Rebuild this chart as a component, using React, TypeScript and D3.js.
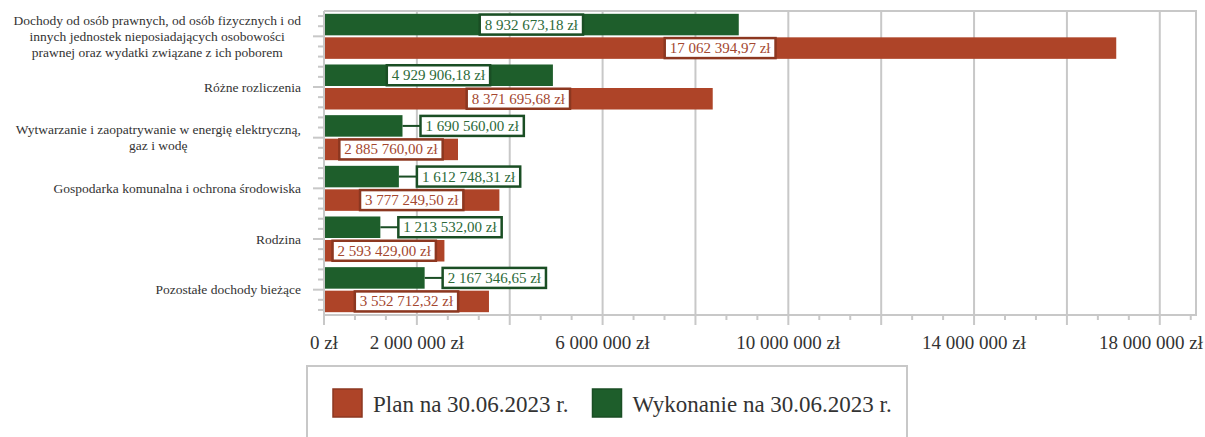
import React, { useEffect, useRef } from 'react';
import * as d3 from 'd3';

const categories = [
  'Dochody od osób prawnych, od osób fizycznych i od innych jednostek nieposiadających osobowości prawnej oraz wydatki związane z ich poborem',
  'Różne rozliczenia',
  'Wytwarzanie i zaopatrywanie w energię elektryczną, gaz i wodę',
  'Gospodarka komunalna i ochrona środowiska',
  'Rodzina',
  'Pozostałe dochody bieżące',
];
const planValues = [17062394.97, 8371695.68, 2885760.0, 3777249.5, 2593429.0, 3552712.32];
const wykonanieValues = [8932673.18, 4929906.18, 1690560.0, 1612748.31, 1213532.0, 2167346.65];
const xTickLabels = [0, 2000000, 6000000, 10000000, 14000000, 18000000];
const seriesNames = ['Plan na 30.06.2023 r.', 'Wykonanie na 30.06.2023 r.'];

const xMax = 18780000;
const gridStep = 2000000;

const WIDTH = 1205;
const HEIGHT = 437;
const FONT = '"Liberation Serif", "Times New Roman", serif';

const RED = '#ae4428';
const RED_DARK = '#8c3720';
const RED_TEXT = '#a4472f';
const GREEN = '#1e5e2b';
const GREEN_DARK = '#1a4e24';
const GREEN_TEXT = '#2c6a39';
const AXIS = '#c8c8c8';

const pl = d3.formatLocale({ decimal: ',', thousands: ' ', grouping: [3], currency: ['', ' zł'] });
const fmtValue = (v: number) => pl.format(',.2f')(v) + ' zł';
const fmtTick = (v: number) => pl.format(',.0f')(v) + ' zł';

export default function App() {
  const svgRef = useRef<SVGSVGElement>(null);

  useEffect(() => {
    if (!svgRef.current) return;
    const svg = d3.select(svgRef.current);
    svg.selectAll('*').remove();

    const left = 324, right = 1196, top = 11, bottom = 315;

    const x = d3.scaleLinear().domain([0, xMax]).range([left, right]);
    const y = d3.scaleBand<string>().domain(categories).range([top, bottom]);
    const sub = d3.scaleBand<string>()
      .domain(['w', 'p'])
      .range([0, y.bandwidth()])
      .paddingInner(0.085)
      .paddingOuter(0.12);

    // gridlines
    const grid = d3.range(gridStep, xMax, gridStep);
    svg.append('g')
      .selectAll('line')
      .data(grid)
      .enter()
      .append('line')
      .attr('x1', d => x(d)).attr('x2', d => x(d))
      .attr('y1', top).attr('y2', bottom)
      .attr('stroke', AXIS).attr('stroke-width', 2);

    // plot frame (top + right)
    svg.append('path')
      .attr('d', `M${left},${top}H${right}V${bottom}`)
      .attr('fill', 'none').attr('stroke', AXIS).attr('stroke-width', 2);

    // bars
    const rows = categories.map((c, i) => ({ c, plan: planValues[i], wyk: wykonanieValues[i] }));
    const barG = svg.append('g');
    rows.forEach(r => {
      const y0 = y(r.c)!;
      barG.append('rect')
        .attr('x', x(0)).attr('y', y0 + sub('w')!)
        .attr('width', x(r.wyk) - x(0)).attr('height', sub.bandwidth())
        .attr('fill', GREEN);
      barG.append('rect')
        .attr('x', x(0) - 1).attr('y', y0 + sub('p')!)
        .attr('width', x(r.plan) - x(0) + 1).attr('height', sub.bandwidth())
        .attr('fill', RED);
    });

    // axes lines
    svg.append('line')
      .attr('x1', left).attr('x2', left).attr('y1', top).attr('y2', bottom + 1)
      .attr('stroke', AXIS).attr('stroke-width', 2);
    svg.append('line')
      .attr('x1', left - 1).attr('x2', right + 1).attr('y1', bottom).attr('y2', bottom)
      .attr('stroke', AXIS).attr('stroke-width', 2);

    // x ticks
    const minor = d3.range(0, xMax, gridStep / 3);
    svg.append('g')
      .selectAll('line')
      .data(minor)
      .enter()
      .append('line')
      .attr('x1', d => x(d)).attr('x2', d => x(d))
      .attr('y1', bottom)
      .attr('y2', (d, i) => (i % 3 === 0 ? bottom + 10 : bottom + 5))
      .attr('stroke', AXIS).attr('stroke-width', 2);

    // x tick labels, last one kept inside the picture
    svg.append('g')
      .selectAll('text')
      .data(xTickLabels)
      .enter()
      .append('text')
      .attr('y', 349)
      .attr('text-anchor', 'middle')
      .attr('font-family', FONT)
      .attr('font-size', 19)
      .attr('fill', '#333')
      .text(d => fmtTick(d))
      .each(function (d) {
        const w = (this as SVGTextElement).getComputedTextLength();
        let cx = x(d);
        if (cx + w / 2 > WIDTH - 2) cx = WIDTH - 2 - w / 2;
        d3.select(this).attr('x', cx);
      });

    // y ticks
    const yTicks: { pos: number; major: boolean }[] = [];
    categories.forEach(c => {
      const center = y(c)! + y.bandwidth() / 2;
      [-2, -1, 0, 1, 2].forEach(k => {
        const pos = center + (k * y.bandwidth()) / 5;
        if (pos > top + 1 && pos < bottom - 1) yTicks.push({ pos, major: k === 0 });
      });
    });
    svg.append('g')
      .selectAll('line')
      .data(yTicks)
      .enter()
      .append('line')
      .attr('x1', d => (d.major ? left - 11 : left - 6)).attr('x2', left)
      .attr('y1', d => d.pos).attr('y2', d => d.pos)
      .attr('stroke', AXIS).attr('stroke-width', 2);

    // category labels (wrapped, centred block, right edge aligned)
    const labelRight = 301;
    const maxW = 300;
    categories.forEach(c => {
      const center = y(c)! + y.bandwidth() / 2;
      const t = svg.append('text')
        .attr('font-family', FONT)
        .attr('font-size', 13.5)
        .attr('fill', '#333')
        .attr('text-anchor', 'middle');
      const words = c.split(' ');
      const lines: string[] = [];
      let cur = '';
      const probe = t.append('tspan');
      words.forEach(w => {
        const test = cur ? cur + ' ' + w : w;
        probe.text(test);
        if ((probe.node() as SVGTSpanElement).getComputedTextLength() > maxW && cur) {
          lines.push(cur);
          cur = w;
        } else cur = test;
      });
      lines.push(cur);
      probe.remove();
      let blockW = 0;
      lines.forEach(l => {
        const ts = t.append('tspan').text(l);
        blockW = Math.max(blockW, (ts.node() as SVGTSpanElement).getComputedTextLength());
      });
      const lh = 16;
      const cx = labelRight - blockW / 2;
      t.selectAll('tspan')
        .attr('x', cx)
        .attr('y', (_, i) => center + (i - (lines.length - 1) / 2) * lh + 4.5);
    });

    // data labels
    const labelG = svg.append('g');
    const drawLabel = (value: number, yTop: number, border: string, textCol: string, lineCol: string) => {
      const h = sub.bandwidth();
      const cy = yTop + h / 2;
      const g = labelG.append('g');
      const rect = g.append('rect');
      const txt = g.append('text')
        .attr('font-family', FONT)
        .attr('font-size', 15)
        .attr('fill', textCol)
        .attr('text-anchor', 'middle')
        .text(fmtValue(value));
      const tw = (txt.node() as SVGTextElement).getComputedTextLength();
      const bw = tw + 10, bh = 20;
      const barW = x(value) - x(0);
      let bx: number;
      if (bw + 4 <= barW) {
        bx = x(0) + barW / 2 - bw / 2;
      } else {
        bx = x(value) + 18;
        g.insert('line', 'rect')
          .attr('x1', x(value)).attr('x2', bx)
          .attr('y1', cy).attr('y2', cy)
          .attr('stroke', lineCol).attr('stroke-width', 2);
      }
      rect.attr('x', bx).attr('y', cy - bh / 2).attr('width', bw).attr('height', bh)
        .attr('fill', '#fff').attr('stroke', border).attr('stroke-width', 2.5);
      txt.attr('x', bx + bw / 2).attr('y', cy + 5);
    };
    rows.forEach(r => {
      const y0 = y(r.c)!;
      drawLabel(r.wyk, y0 + sub('w')!, GREEN_DARK, GREEN_TEXT, GREEN_DARK);
      drawLabel(r.plan, y0 + sub('p')!, RED_DARK, RED_TEXT, RED_DARK);
    });

    // legend
    const lg = svg.append('g');
    lg.append('rect')
      .attr('x', 307).attr('y', 366).attr('width', 600).attr('height', 90)
      .attr('fill', '#fff').attr('stroke', AXIS).attr('stroke-width', 2);
    const colors = [RED, GREEN];
    const darks = [RED_DARK, GREEN_DARK];
    let lx = 333;
    seriesNames.forEach((name, i) => {
      lg.append('rect')
        .attr('x', lx).attr('y', 389).attr('width', 29).attr('height', 28)
        .attr('fill', colors[i]).attr('stroke', darks[i]).attr('stroke-width', 1.5);
      const t = lg.append('text')
        .attr('x', lx + 40).attr('y', 412)
        .attr('font-family', FONT)
        .attr('font-size', 23)
        .attr('fill', '#333')
        .text(name);
      lx = lx + 40 + (t.node() as SVGTextElement).getComputedTextLength() + 24;
    });
  }, []);

  return (
    <svg
      ref={svgRef}
      width={WIDTH}
      height={HEIGHT}
      style={{ position: 'absolute', left: 0, top: 0, background: '#fff' }}
    />
  );
}
